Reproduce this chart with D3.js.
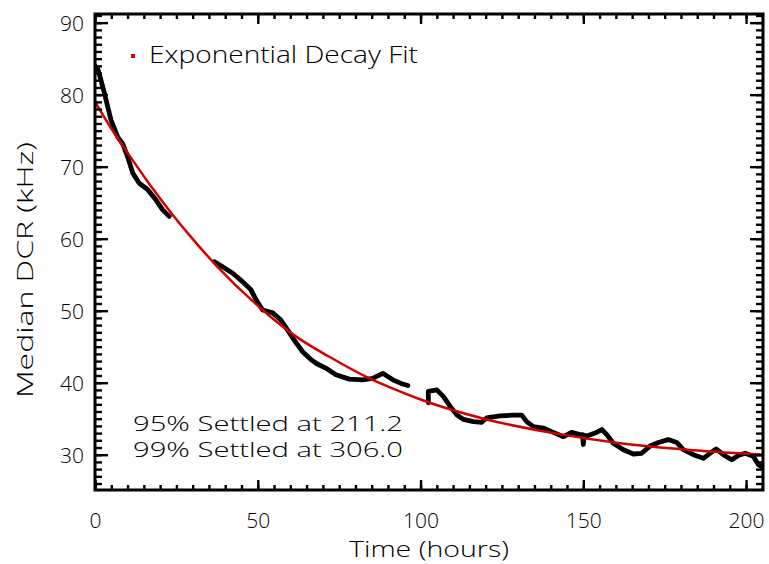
<!DOCTYPE html>
<html>
<head>
<meta charset="utf-8">
<script src="https://cdn.jsdelivr.net/npm/d3@7/dist/d3.min.js"></script>
<style>
  html, body { margin: 0; padding: 0; background: #fff; }
  svg { display: block; }
  text { font-family: "Open Sans", "DejaVu Sans", sans-serif; font-weight: 300; fill: #000; }
</style>
</head>
<body>
<svg id="chart" width="769" height="564"></svg>
<script>
// ---- data ----
const seg1Time = [0.0, 0.8, 1.3, 2.9, 4.9, 7.0, 8.5, 10.0, 11.6, 13.6, 16.2, 18.7, 20.8, 22.8];
const seg1Dcr  = [84.0, 83.6, 82.9, 80.2, 76.5, 74.1, 73.2, 71.4, 69.1, 67.7, 66.8, 65.4, 64.0, 63.1];

const seg2Time = [36.7, 39.2, 42.3, 45.4, 47.9, 49.5, 51.5, 54.6, 57.1, 59.2, 61.2, 63.8, 66.4, 67.9, 71.0, 74.0, 78.1, 82.2, 85.3, 88.4, 91.5, 94.0, 96.1];
const seg2Dcr  = [56.8, 56.1, 55.2, 54.0, 52.9, 51.5, 50.1, 49.7, 48.7, 47.3, 45.9, 44.3, 43.2, 42.7, 42.0, 41.1, 40.5, 40.4, 40.6, 41.3, 40.4, 39.9, 39.6];

const seg3Time = [102.4, 102.4, 105.0, 107.0, 109.1, 111.2, 113.2, 116.2, 118.8, 120.3, 124.4, 128.5, 131.1, 132.6, 134.7, 137.7, 140.8, 143.9, 146.4, 149.0, 149.8, 150.0, 150.2, 151.1, 153.6, 155.7, 157.2, 159.2, 162.3, 165.4, 167.9, 170.5, 173.1, 176.1, 178.7, 180.7, 183.8, 186.9, 188.9, 190.8, 193.0, 195.6, 197.6, 199.7, 202.2, 203.8, 206.4];
const seg3Dcr  = [37.2, 38.8, 39.0, 38.1, 36.7, 35.5, 34.9, 34.6, 34.5, 35.1, 35.4, 35.5, 35.5, 34.6, 33.9, 33.7, 33.1, 32.5, 33.1, 32.8, 32.8, 31.4, 32.7, 32.6, 33.0, 33.5, 32.8, 31.6, 30.7, 30.1, 30.2, 31.2, 31.7, 32.1, 31.7, 30.7, 30.0, 29.5, 30.2, 30.8, 30.0, 29.3, 29.9, 30.2, 29.8, 28.6, 27.9];

const fitTime = [0.0, 5.0, 10.5, 16.7, 23.9, 29.0, 37.2, 51.5, 61.8, 72.0, 84.3, 92.5, 99.8, 120.3, 140.8, 161.3, 181.8, 206.0];
const fitDcr  = [79.0, 75.3, 71.6, 67.6, 63.3, 60.5, 56.3, 50.1, 46.4, 43.6, 40.6, 39.0, 37.7, 34.9, 33.0, 31.6, 30.7, 30.0];

const xMajorTicks = [0, 50, 100, 150, 200];
const xMinorTicks = d3.range(0, 206, 5);
const yMajorTicks = [30, 40, 50, 60, 70, 80, 90];
const yMinorTicks = d3.range(26, 92, 1);

const xDomain = [0, 205.2];
const yDomain = [25.1, 91.2];

const legendLabel = "Exponential Decay Fit";
const settleLines = ["95% Settled at 211.2", "99% Settled at 306.0"];
const xTitle = "Time (hours)";
const yTitle = "Median DCR (kHz)";

// ---- layout ----
const L = 95, R = 763, T = 14, B = 490;
const svg = d3.select("#chart");
const x = d3.scaleLinear().domain(xDomain).range([L, R]);
const y = d3.scaleLinear().domain(yDomain).range([B, T]);

svg.append("defs").append("clipPath").attr("id", "plotclip")
  .append("rect").attr("x", L).attr("y", T).attr("width", R - L).attr("height", B - T);

const plot = svg.append("g").attr("clip-path", "url(#plotclip)");

const line = d3.line().x(d => x(d[0])).y(d => y(d[1]));
const fitLine = d3.line().x(d => x(d[0])).y(d => y(d[1])).curve(d3.curveMonotoneX);

const segs = [[seg1Time, seg1Dcr], [seg2Time, seg2Dcr], [seg3Time, seg3Dcr]];
segs.forEach(([ts, vs]) => {
  plot.append("path")
    .datum(ts.map((t, i) => [t, vs[i]]))
    .attr("d", line)
    .attr("fill", "none").attr("stroke", "#000")
    .attr("stroke-width", 4.8).attr("stroke-linejoin", "round").attr("stroke-linecap", "round");
});

plot.append("path")
  .datum(fitTime.map((t, i) => [t, fitDcr[i]]))
  .attr("d", fitLine)
  .attr("fill", "none").attr("stroke", "#d40000").attr("stroke-width", 2.5);

// ---- axes (ticks inward on all four sides) ----
function styleAxis(g) {
  g.select(".domain").remove();
  g.selectAll(".tick line").attr("stroke", "#000").attr("stroke-width", 2.4);
}
// bottom
svg.append("g").attr("transform", `translate(0,${B})`)
  .call(d3.axisBottom(x).tickValues(xMinorTicks).tickSize(-5).tickFormat(""))
  .call(styleAxis);
const xAx = svg.append("g").attr("transform", `translate(0,${B})`)
  .call(d3.axisBottom(x).tickValues(xMajorTicks).tickSize(-10).tickPadding(0).tickFormat(d3.format("d")))
  .call(styleAxis);
xAx.selectAll(".tick text").attr("y", 38).attr("dy", 0).attr("font-size", 21);
// top
svg.append("g").attr("transform", `translate(0,${T})`)
  .call(d3.axisTop(x).tickValues(xMinorTicks).tickSize(-5).tickFormat(""))
  .call(styleAxis);
svg.append("g").attr("transform", `translate(0,${T})`)
  .call(d3.axisTop(x).tickValues(xMajorTicks).tickSize(-10).tickFormat(""))
  .call(styleAxis);
// left
svg.append("g").attr("transform", `translate(${L},0)`)
  .call(d3.axisLeft(y).tickValues(yMinorTicks).tickSize(-7).tickFormat(""))
  .call(styleAxis);
const yAx = svg.append("g").attr("transform", `translate(${L},0)`)
  .call(d3.axisLeft(y).tickValues(yMajorTicks).tickSize(-13).tickFormat(d3.format("d")))
  .call(styleAxis);
yAx.selectAll(".tick text").attr("x", -11).attr("dy", "0.36em").attr("font-size", 21);
// right
svg.append("g").attr("transform", `translate(${R},0)`)
  .call(d3.axisRight(y).tickValues(yMinorTicks).tickSize(-7).tickFormat(""))
  .call(styleAxis);
svg.append("g").attr("transform", `translate(${R},0)`)
  .call(d3.axisRight(y).tickValues(yMajorTicks).tickSize(-13).tickFormat(""))
  .call(styleAxis);

// frame
svg.append("rect").attr("x", L).attr("y", T).attr("width", R - L).attr("height", B - T)
  .attr("fill", "none").attr("stroke", "#000").attr("stroke-width", 3);

// titles
svg.append("text").attr("x", (L + R) / 2).attr("y", 557).attr("text-anchor", "middle")
  .attr("font-size", 22).attr("textLength", 160).attr("lengthAdjust", "spacingAndGlyphs").text(xTitle);
svg.append("text").attr("transform", "translate(33,270) rotate(-90)").attr("text-anchor", "middle")
  .attr("font-size", 22).attr("textLength", 256).attr("lengthAdjust", "spacingAndGlyphs").text(yTitle);

// legend
svg.append("rect").attr("x", 131).attr("y", 54).attr("width", 4).attr("height", 4).attr("fill", "#d40000");
svg.append("text").attr("x", 149).attr("y", 63).attr("font-size", 24)
  .attr("textLength", 269).attr("lengthAdjust", "spacingAndGlyphs").text(legendLabel);

// settling annotations
settleLines.forEach((s, i) => {
  svg.append("text").attr("x", 133).attr("y", 430.5 + i * 26.8).attr("font-size", 19.5)
    .attr("textLength", 270).attr("lengthAdjust", "spacingAndGlyphs").text(s);
});
</script>
</body>
</html>
